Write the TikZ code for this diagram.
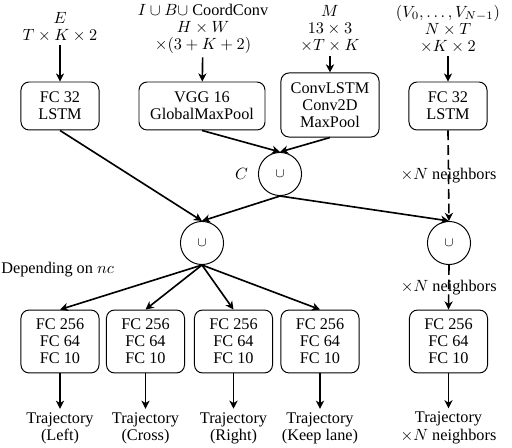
\documentclass[tikz,border=0pt]{standalone}
\usepackage{fontspec}
\setmainfont{Liberation Serif}
\usetikzlibrary{positioning,arrows.meta}
\tikzset{
  blk/.style={draw, line width=0.6pt, rounded corners=5pt, align=center, inner sep=1pt},
  cup/.style={draw, line width=0.6pt, circle, minimum size=26.5pt, inner sep=0pt, font=\footnotesize},
  lbl/.style={align=center, inner sep=2pt},
  flow/.style={->, line width=1pt}
}
\begin{document}
\begin{tikzpicture}[x=0.615pt, y=-0.615pt, >={Stealth[length=5pt, width=5pt, inset=1.5pt]}, font=\fontsize{10}{10.5}\selectfont]
  \useasboundingbox (0,0) rectangle (512,448);
  % inputs
  \node[lbl] (inE) at (60,27) {$E$\\$T\times K\times 2$};
  \node[lbl] (inI) at (203,29) {$I\cup B\cup$ CoordConv\\$H\times W$\\$\times(3+K+2)$};
  \node[lbl] (inM) at (330,29) {$M$\\$13\times 3$\\$\times T\times K$};
  \node[lbl] (inV) at (448,29) {$(V_0,\ldots,V_{N-1})$\\$N\times T$\\$\times K\times 2$};
  % encoders
  \node[blk, minimum width=48pt, minimum height=29.5pt] (encE) at (60,106) {FC 32\\LSTM};
  \node[blk, minimum width=77.5pt, minimum height=29.5pt] (encI) at (202,106) {VGG 16\\GlobalMaxPool};
  \node[blk, minimum width=60.3pt, minimum height=39.4pt] (encM) at (330,105) {ConvLSTM\\Conv2D\\MaxPool};
  \node[blk, minimum width=48pt, minimum height=29.5pt] (encV) at (448,106) {FC 32\\LSTM};
  % concatenations
  \node[cup] (catC) at (280,174) {$\cup$};
  \node[left=6pt of catC.west, inner sep=0pt] (lblC) {$C$};
  \node[cup] (catL) at (202,243) {$\cup$};
  \node[cup] (catR) at (449,243) {$\cup$};
  \node[anchor=west, inner sep=0pt] (dep) at (1,270) {Depending on $nc$};
  % decoders
  \foreach \n/\x/\t in {decL/60/(Left), decC/145.5/(Cross), decR/233.5/(Right), decK/320/(Keep lane)} {
    \node[blk, minimum width=48pt, minimum height=38.7pt] (\n) at (\x,341.5) {FC 256\\FC 64\\FC 10};
    \node[lbl] (out\n) at (\x,428) {Trajectory\\\t};
    \draw[flow] (catL.south) -- (\n.north);
    \draw[flow] (\n.south) -- (out\n.north);
  }
  \node[blk, minimum width=48pt, minimum height=38.7pt] (decN) at (448.5,341.5) {FC 256\\FC 64\\FC 10};
  \node[lbl] (outN) at (448.5,428) {Trajectory\\[0.5pt]$\times N$ neighbors};
  % connections
  \draw[flow] (inE) -- (encE);
  \draw[flow] (inI) -- (encI);
  \draw[flow] (inM) -- (encM);
  \draw[flow] (inV) -- (encV);
  \draw[flow] (encE.south) -- (catL.north);
  \draw[flow] (encI.south) -- (catC.north);
  \draw[flow] (encM.south) -- (catC.north);
  \draw[flow] (catC.south) -- (catL.north);
  \draw[flow] (catC.south) -- (catR.north);
  \draw[flow, dash pattern=on 6pt off 3pt] (encV.south) -- node {$\times N$ neighbors} (catR.north);
  \draw[flow, dash pattern=on 6pt off 3pt] (catR.south) -- node {$\times N$ neighbors} (decN.north);
  \draw[flow] (decN.south) -- (outN.north);
\end{tikzpicture}
\end{document}
